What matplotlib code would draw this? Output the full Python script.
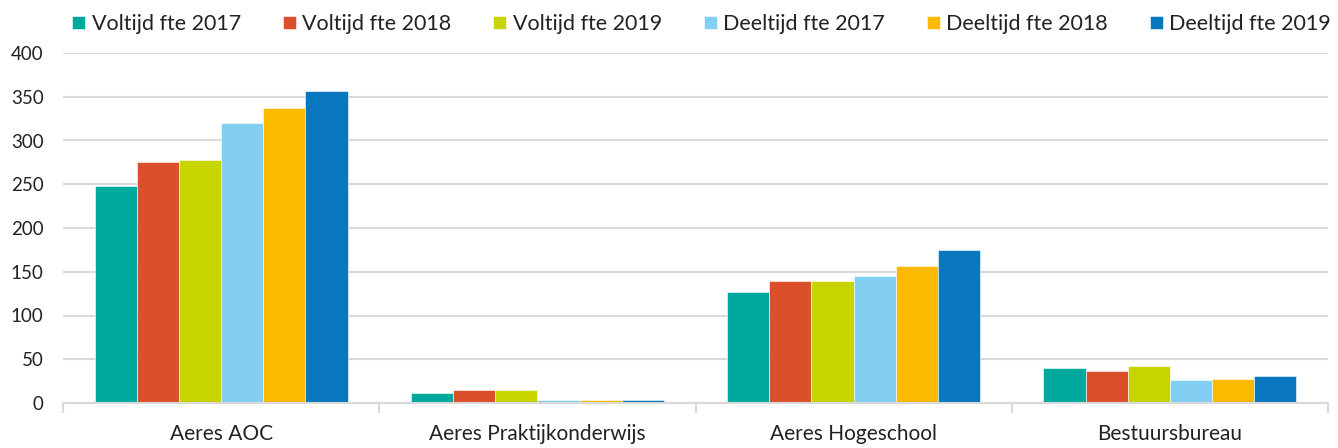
import matplotlib
matplotlib.use("Agg")
import matplotlib.pyplot as plt
import numpy as np

categories = ["Aeres AOC", "Aeres Praktijkonderwijs", "Aeres Hogeschool", "Bestuursbureau"]
series_names = ["Voltijd fte 2017", "Voltijd fte 2018", "Voltijd fte 2019",
                "Deeltijd fte 2017", "Deeltijd fte 2018", "Deeltijd fte 2019"]
voltijd_2017 = [248, 12, 127, 40]
voltijd_2018 = [275, 15, 139, 37]
voltijd_2019 = [278, 15, 139, 42]
deeltijd_2017 = [320, 4, 145, 26]
deeltijd_2018 = [337, 3, 157, 28]
deeltijd_2019 = [357, 4, 175, 31]
series_values = [voltijd_2017, voltijd_2018, voltijd_2019,
                 deeltijd_2017, deeltijd_2018, deeltijd_2019]
colors = ["#00A99D", "#D9502B", "#C8D400", "#82CFF3", "#FBB900", "#0877BE"]
yticks = [0, 50, 100, 150, 200, 250, 300, 350, 400]

plt.rcParams['font.family'] = ['Lato', 'DejaVu Sans']

fig = plt.figure(figsize=(13.38, 4.48), dpi=100)
ax = fig.add_axes([63/1338, 45/448, (1328-63)/1338, 350/448])

x = np.arange(len(categories))
n = len(series_values)
group_w = 0.8
bw = group_w / n
for i, (name, vals, c) in enumerate(zip(series_names, series_values, colors)):
    offs = -group_w/2 + bw*(i + 0.5)
    ax.bar(x + offs, vals, width=bw, color=c, label=name, zorder=3,
           edgecolor="white", linewidth=0.4)

ax.set_xlim(-0.5, len(categories) - 0.5)
ax.set_ylim(0, 400)
ax.set_yticks(yticks)
ax.set_yticklabels([str(v) for v in yticks], fontsize=13.5, color="#222222")
ax.yaxis.grid(True, color="#D9D9D9", linewidth=1.5, zorder=0)
ax.tick_params(axis='y', length=0, pad=14)

ax.set_xticks(x)
ax.set_xticklabels(categories, fontsize=15, color="#222222")
ax.tick_params(axis='x', which='major', length=0, pad=15)
ax.set_xticks(np.arange(-0.5, len(categories)), minor=True)
ax.tick_params(axis='x', which='minor', length=7, width=1.5, color="#D9D9D9")

for s in ["top", "right", "left"]:
    ax.spines[s].set_visible(False)
ax.spines["bottom"].set_color("#D9D9D9")
ax.spines["bottom"].set_linewidth(1.5)
ax.spines["bottom"].set_zorder(4)

leg = fig.legend(loc="upper center", bbox_to_anchor=(0.5245, 1.012), ncol=6,
                 frameon=False, fontsize=15.5, handlelength=0.6, handleheight=0.6,
                 handletextpad=0.3, columnspacing=1.95, labelcolor="#222222")

fig.savefig("out.png", dpi=100)
